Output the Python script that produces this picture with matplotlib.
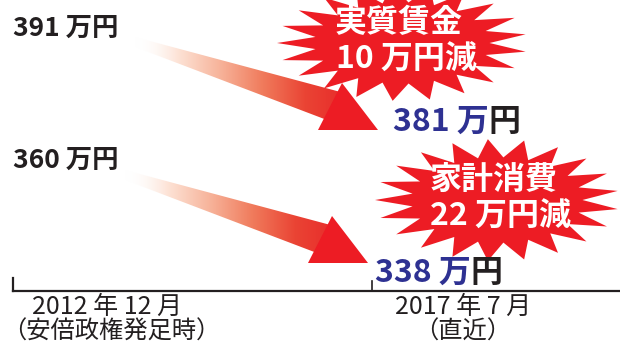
import numpy as np
import matplotlib
matplotlib.use('Agg')
import matplotlib.pyplot as plt
from matplotlib.patches import Polygon
from matplotlib.colors import LinearSegmentedColormap

plt.rcParams['font.family'] = ['Noto Sans CJK JP', 'DejaVu Sans']

# data
periods = ['2012 年 12 月', '2017 年 7 月']
period_notes = ['（安倍政権発足時）', '（直近）']
series_names = ['実質賃金', '家計消費']
start_values = [391, 360]
end_values = [381, 338]
unit = '万円'

RED = '#ed1c24'
BLUE = '#2e3192'
INK = '#231f20'

# layout, in pixel units of the 620x348 canvas
period_x = [107, 463]
note_x = [111, 463]
tick_x = [13, 372]
axis_y = 291
start_label_y = [28, 160]
arrow_tail = [(135, 42), (125, 175)]
arrow_tip = [(378, 130), (368, 263)]
end_label_xy = [(393, 122), (375, 273)]
bursts = [(402, 43, 125, 58), (497, 200, 122, 61)]

fade = LinearSegmentedColormap.from_list(
    'fade', [(1, 1, 1, 0), '#fde3d6', '#f7b39a', '#f07b5c', '#ea4434', '#e82a2a'])


def burst_points(cx, cy, rx, ry, n=21, inner=0.7):
    ang = np.linspace(0, 2 * np.pi, 2 * n, endpoint=False)
    r = np.where(np.arange(2 * n) % 2 == 0, 1.0, inner)
    return np.column_stack([cx - rx * r * np.cos(ang), cy - ry * r * np.sin(ang)])


def draw_arrow(ax, tail, tip):
    tx, ty = tail
    hx, hy = tip
    shaft = Polygon([(tx, ty - 5), (hx - 30, hy - 36), (hx - 30, hy - 2), (tx, ty + 5)],
                    closed=True, facecolor='none', edgecolor='none')
    ax.add_patch(shaft)
    grad = np.linspace(0, 1, 256).reshape(1, -1)
    im = ax.imshow(grad, cmap=fade, aspect='auto', interpolation='bicubic',
                   extent=(tx, hx - 30, hy, ty - 6), zorder=2)
    im.set_clip_path(shaft)
    head = Polygon([(hx - 36, hy - 47), (hx - 60, hy), (hx, hy)],
                   closed=True, facecolor=RED, edgecolor='none', zorder=4)
    ax.add_patch(head)


fig = plt.figure(figsize=(6.2, 3.48), dpi=100)
ax = fig.add_axes([0, 0, 1, 1])

for i in range(2):
    cx, cy, rx, ry = bursts[i]
    ax.add_patch(Polygon(burst_points(cx, cy, rx, ry), closed=True,
                         facecolor=RED, edgecolor='none', zorder=3))
    ax.text(cx - 3, cy - 20, series_names[i], color='white', fontsize=23,
            fontweight='bold', ha='center', va='center', zorder=6)
    ax.text(cx + 4, cy + 17, f'{start_values[i] - end_values[i]} {unit}減',
            color='white', fontsize=23, fontweight='bold',
            ha='center', va='center', zorder=6)

    draw_arrow(ax, arrow_tail[i], arrow_tip[i])

    ax.text(13, start_label_y[i], f'{start_values[i]} {unit}', color=INK,
            fontsize=19, fontweight='bold', ha='left', va='center', zorder=6)
    ex, ey = end_label_xy[i]
    t = ax.text(ex, ey, f'{end_values[i]} {unit[0]}', color=BLUE, fontsize=23,
                fontweight='bold', ha='left', va='center', zorder=6)
    ax.annotate(unit[1], xy=(1, 0), xycoords=t, color=INK, fontsize=23,
                fontweight='bold', ha='left', va='bottom', zorder=6)

# time axis
ax.plot([tick_x[0], 620], [axis_y, axis_y], color=INK, lw=1.6, zorder=5)
ax.plot([tick_x[0], tick_x[0]], [axis_y - 13, axis_y], color=INK, lw=1.6, zorder=5)
ax.plot([tick_x[1], tick_x[1]], [axis_y - 10, axis_y], color=INK, lw=1.2, zorder=5)
for i in range(2):
    ax.text(period_x[i], 307, periods[i], color=INK, fontsize=18,
            ha='center', va='center')
    ax.text(note_x[i], 332, period_notes[i], color=INK, fontsize=17.5,
            ha='center', va='center')

ax.set_xlim(0, 620)
ax.set_ylim(348, 0)
ax.axis('off')

fig.savefig('out.png', dpi=100)
